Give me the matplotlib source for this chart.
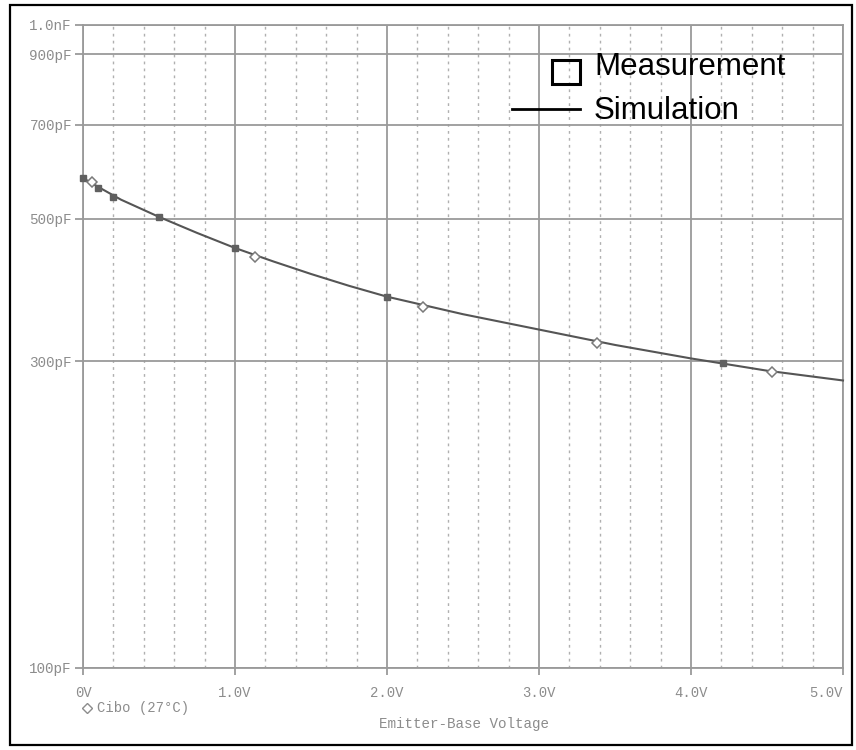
import matplotlib
matplotlib.use('Agg')
import matplotlib.pyplot as plt
from matplotlib.lines import Line2D
from matplotlib.patches import Rectangle

# ---- data ----
sim_v = [0.0, 0.1, 0.25, 0.5, 0.75, 1.0, 1.25, 1.5, 1.75, 2.0, 2.5, 3.0, 3.5, 4.0, 4.5, 5.0]
sim_c = [578, 560, 535, 503, 475, 450, 429, 410, 393, 378, 355, 336, 318, 303, 290, 280]

diamond_v = [0.06, 1.13, 2.24, 3.38, 4.53]
diamond_c = [570, 436, 364, 320, 289]

square_v = [0.0, 0.10, 0.20, 0.50, 1.0, 2.0, 4.21]
square_c = [578, 558, 540, 503, 450, 378, 298]

x_major = [0, 1, 2, 3, 4, 5]
x_labels = ['0V', '1.0V', '2.0V', '3.0V', '4.0V', '5.0V']
x_minor = [i * 0.2 for i in range(26)]
y_ticks = [100, 300, 500, 700, 900, 1000]
y_labels = ['100pF', '300pF', '500pF', '700pF', '900pF', '1.0nF']

W, H = 856, 750
def fx(x): return x / W
def fy(y): return 1 - y / H

GRAY = '#9a9a9a'
TXT = '#8c8c8c'
MONO = 'Liberation Mono'

fig = plt.figure(figsize=(W / 100, H / 100), dpi=100)
ax = fig.add_axes([fx(83), fy(668), fx(843) - fx(83), fy(25) - fy(668)])

ax.set_xscale('linear')
ax.set_yscale('log')
ax.set_xlim(0, 5)
ax.set_ylim(100, 1000)

ax.set_xticks(x_major)
ax.set_xticklabels(x_labels)
ax.set_xticks(x_minor, minor=True)
ax.set_yticks(y_ticks)
ax.set_yticklabels(y_labels)
ax.yaxis.set_minor_locator(matplotlib.ticker.NullLocator())

ax.grid(which='major', axis='x', color=GRAY, lw=1.3, ls='-')
ax.grid(which='minor', axis='x', color='#b0b0b0', lw=1.0, ls=(0, (2, 3)))
ax.grid(which='major', axis='y', color=GRAY, lw=1.3, ls='-')
ax.set_axisbelow(True)

for s in ax.spines.values():
    s.set_color(GRAY)
    s.set_linewidth(1.3)

ax.tick_params(axis='x', which='major', direction='out', length=5, width=1.3,
               color=GRAY, pad=8, labelsize=10, labelcolor=TXT)
ax.tick_params(axis='x', which='minor', length=0)
ax.tick_params(axis='y', which='major', direction='out', length=6, width=1.3,
               color=GRAY, pad=2, labelsize=10.3, labelcolor=TXT)
for lab in ax.get_xticklabels() + ax.get_yticklabels():
    lab.set_family(MONO)
ax.get_xticklabels()[-1].set_horizontalalignment('right')
ax.get_xticklabels()[-1].set_x(5.0)

# curve and markers
ax.plot(sim_v, sim_c, color='#555555', lw=1.5, zorder=3, clip_on=False)
ax.plot(square_v, square_c, ls='none', marker='s', ms=4.5, color='#606060', zorder=4,
        clip_on=False)
ax.plot(diamond_v, diamond_c, ls='none', marker='D', ms=5.5, mfc='white', mec='#7a7a7a',
        mew=1.1, zorder=5, clip_on=False)

# PSpice-style trace legend
fig.add_artist(Line2D([fx(87)], [fy(708)], marker='D', ms=5, mfc='white', mec=TXT,
                      mew=1.0, ls='none', transform=fig.transFigure))
fig.text(fx(97), fy(708), 'Cibo (27°C)', family=MONO, fontsize=10, color=TXT,
         ha='left', va='center')
fig.text(fx(464), fy(724), 'Emitter-Base Voltage', family=MONO, fontsize=10.3,
         color=TXT, ha='center', va='center')

# overlay legend
fig.add_artist(Rectangle((fx(552), fy(84)), 28 / W, 24 / H, fill=False, ec='black',
                         lw=2.2, transform=fig.transFigure))
fig.add_artist(Line2D([fx(512), fx(580)], [fy(109), fy(109)], color='black', lw=2.0,
                      transform=fig.transFigure))
fig.text(fx(594), fy(67), 'Measurement', family='Liberation Sans', fontsize=22.5,
         color='black', ha='left', va='center')
fig.text(fx(594), fy(111), 'Simulation', family='Liberation Sans', fontsize=22.5,
         color='black', ha='left', va='center')

# outer frame
fig.add_artist(Rectangle((fx(10), fy(745)), 842 / W, 740 / H, fill=False, ec='black',
                         lw=1.6, transform=fig.transFigure))

fig.savefig('out.png', dpi=100)
